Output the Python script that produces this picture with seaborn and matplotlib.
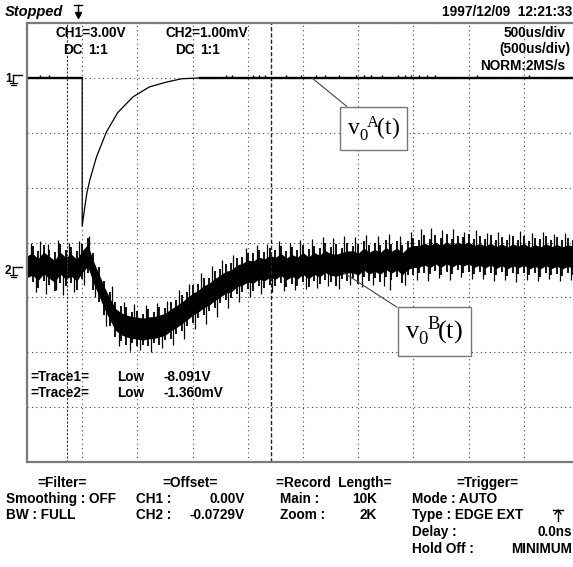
import numpy as np
import matplotlib
matplotlib.use("Agg")
import matplotlib.pyplot as plt
import seaborn as sns
from matplotlib.lines import Line2D

# ---------------- data ----------------
# time in ms (500 us/div, trigger at t = 0)
CH1_V_PER_DIV = 3.0      # CH1 = 3.00 V/div
CH1_GND_DIV = 3.0        # CH1 ground marker position (divisions)
CH2_MV_PER_DIV = 1.0     # CH2 = 1.00 mV/div
CH2_GND_DIV = -0.5       # CH2 ground marker position (divisions)

ch1_t = [-0.50, 0.00, 0.00, 0.025, 0.043, 0.07, 0.13, 0.22, 0.32, 0.46, 0.61, 0.77, 0.90, 1.07, 4.50]
ch1_v = [0.00, 0.00, -8.09, -7.00, -6.27, -5.56, -4.31, -2.95, -1.91, -1.04, -0.49, -0.22, -0.05, 0.00, 0.00]
# tiny glitches sitting on the settled CH1 level (time ms)
ch1_blip_t = [-0.38, -0.30, 1.30, 1.36, 1.55, 1.60, 1.66, 1.85, 1.98, 2.12, 2.20, 2.33, 2.48,
              2.55, 2.62, 2.72, 2.86, 2.92, 2.98, 3.05, 3.12, 3.20, 3.58, 4.05]

ch2_t = [-0.50, -0.45, -0.40, -0.35, -0.30, -0.25, -0.20, -0.15, -0.10, -0.05,
         0.00, 0.05, 0.10, 0.15, 0.20, 0.25, 0.30, 0.35, 0.40, 0.45,
         0.50, 0.55, 0.60, 0.65, 0.70, 0.75, 0.80, 0.85, 0.90, 0.95,
         1.00, 1.05, 1.10, 1.15, 1.20, 1.25, 1.30, 1.35, 1.40, 1.45,
         1.50, 1.55, 1.60, 1.65, 1.70, 1.75, 1.80, 1.85, 1.90, 1.95,
         2.00, 2.05, 2.10, 2.15, 2.20, 2.25, 2.30, 2.35, 2.40, 2.45,
         2.50, 2.55, 2.60, 2.65, 2.70, 2.75, 2.80, 2.85, 2.90, 2.95,
         3.00, 3.05, 3.10, 3.15, 3.20, 3.25, 3.30, 3.35, 3.40, 3.45,
         3.50, 3.55, 3.60, 3.65, 3.70, 3.75, 3.80, 3.85, 3.90, 3.95,
         4.00, 4.05, 4.10, 4.15, 4.20, 4.25, 4.30, 4.35, 4.40, 4.45, 4.50]
ch2_hi = [0.36, 0.43, 0.34, 0.46, 0.37, 0.33, 0.48, 0.36, 0.42, 0.35,
          0.47, 0.59, 0.30, 0.05, -0.20, -0.40, -0.58, -0.66, -0.68, -0.77,
          -0.74, -0.80, -0.72, -0.76, -0.68, -0.70, -0.58, -0.55, -0.45, -0.40,
          -0.28, -0.26, -0.15, -0.14, -0.02, 0.01, 0.10, 0.12, 0.22, 0.24,
          0.31, 0.30, 0.36, 0.33, 0.40, 0.36, 0.44, 0.35, 0.41, 0.37,
          0.46, 0.38, 0.44, 0.40, 0.49, 0.42, 0.47, 0.40, 0.50, 0.44,
          0.47, 0.52, 0.45, 0.50, 0.46, 0.54, 0.47, 0.53, 0.46, 0.52,
          0.58, 0.55, 0.63, 0.56, 0.64, 0.58, 0.66, 0.57, 0.62, 0.60,
          0.65, 0.57, 0.61, 0.56, 0.63, 0.55, 0.60, 0.54, 0.61, 0.55,
          0.62, 0.53, 0.59, 0.56, 0.61, 0.54, 0.60, 0.55, 0.58, 0.54, 0.57]
ch2_lo = [-0.24, -0.22, -0.33, -0.20, -0.27, -0.38, -0.23, -0.30, -0.24, -0.36,
          -0.17, -0.06, -0.36, -0.58, -0.82, -1.02, -1.22, -1.30, -1.36, -1.33,
          -1.38, -1.36, -1.39, -1.34, -1.36, -1.28, -1.25, -1.16, -1.12, -1.02,
          -0.97, -0.88, -0.83, -0.74, -0.70, -0.60, -0.55, -0.52, -0.44, -0.40,
          -0.35, -0.38, -0.29, -0.33, -0.27, -0.30, -0.24, -0.31, -0.25, -0.30,
          -0.22, -0.31, -0.20, -0.26, -0.18, -0.22, -0.30, -0.16, -0.21, -0.14,
          -0.26, -0.12, -0.20, -0.15, -0.22, -0.12, -0.19, -0.13, -0.24, -0.10,
          -0.09, -0.06, -0.05, -0.08, -0.02, -0.09, -0.03, -0.07, 0.00, -0.06,
          -0.03, -0.08, -0.04, -0.09, -0.05, -0.10, -0.04, -0.11, -0.06, -0.08,
          -0.05, -0.10, -0.06, -0.12, -0.05, -0.09, -0.07, -0.11, -0.05, -0.09, -0.07]

# noise spikes poking out of the CH2 band (time ms, tip mV)
up_t = [-0.46, -0.38, -0.31, -0.22, -0.12, -0.03, 0.06, 0.27, 0.38, 0.47, 0.58, 0.68, 0.77,
        0.88, 0.97, 1.08, 1.18, 1.27, 1.37, 1.48, 1.58, 1.67, 1.78, 1.88, 1.97, 2.08, 2.18,
        2.27, 2.37, 2.47, 2.57, 2.68, 2.78, 2.88, 2.98, 3.07, 3.16, 3.26, 3.36, 3.46, 3.57,
        3.67, 3.77, 3.87, 3.97, 4.07, 4.17, 4.27, 4.37, 4.46]
up_v = [0.50, 0.52, 0.47, 0.55, 0.50, 0.52, 0.62, -0.30, -0.58, -0.62, -0.64, -0.60, -0.56,
        -0.36, -0.25, -0.05, 0.08, 0.18, 0.28, 0.40, 0.45, 0.48, 0.52, 0.50, 0.55, 0.56, 0.60,
        0.58, 0.62, 0.60, 0.64, 0.61, 0.66, 0.62, 0.70, 0.74, 0.77, 0.72, 0.75, 0.70, 0.73,
        0.68, 0.70, 0.66, 0.71, 0.67, 0.69, 0.65, 0.68, 0.64]
dn_t = [-0.42, -0.33, -0.24, -0.17, -0.07, 0.02, 0.12, 0.22, 0.33, 0.43, 0.52, 0.62, 0.72,
        0.82, 0.92, 1.02, 1.12, 1.22, 1.32, 1.42, 1.52, 1.62, 1.72, 1.83, 1.93, 2.03, 2.13,
        2.23, 2.33, 2.43, 2.53, 2.63, 2.73, 2.79, 2.92, 3.03, 3.13, 3.23, 3.33, 3.43, 3.53,
        3.63, 3.73, 3.83, 3.93, 4.03, 4.13, 4.23, 4.33, 4.43]
dn_v = [-0.40, -0.43, -0.37, -0.45, -0.40, -0.28, -0.50, -1.02, -1.38, -1.48, -1.46, -1.50, -1.42,
        -1.36, -1.25, -1.08, -0.98, -0.85, -0.70, -0.58, -0.50, -0.44, -0.40, -0.38, -0.36, -0.35, -0.33,
        -0.30, -0.35, -0.28, -0.32, -0.27, -0.30, -0.37, -0.27, -0.18, -0.20, -0.15, -0.18, -0.13, -0.17,
        -0.16, -0.20, -0.18, -0.22, -0.19, -0.21, -0.17, -0.20, -0.18]

trig_marker_t = -0.138   # dotted marker line
cursor_t = 1.71          # dashed cursor line

# ---------------- figure ----------------
W, H = 573, 567
plt.rcParams['font.family'] = ['Liberation Sans', 'DejaVu Sans']
plt.rcParams['mathtext.fontset'] = 'custom'
plt.rcParams['mathtext.rm'] = 'Liberation Serif'
plt.rcParams['mathtext.it'] = 'Liberation Serif:italic'

fig = plt.figure(figsize=(W / 100, H / 100), dpi=100)
fig.patch.set_facecolor('white')
L, R, T, B = 27, 579, 23, 462
ax = fig.add_axes([L / W, 1 - B / H, (R - L) / W, (B - T) / H])
ax.set_xlim(-0.5, 4.5)
ax.set_ylim(-4, 4)
ax.set_facecolor('white')

ax.set_xticks(np.arange(-0.5, 4.51, 0.5))
ax.set_yticks(np.arange(-4, 4.01, 1))
ax.tick_params(length=0, labelbottom=False, labelleft=False)
ax.set_axisbelow(True)
ax.grid(True, linestyle=(0, (1, 3)), color='#444444', linewidth=0.8)
for side, sp in ax.spines.items():
    sp.set_color('#7a7a7a')
    sp.set_linewidth(1.6)
ax.spines['right'].set_visible(False)

ax.axvline(trig_marker_t, linestyle=(0, (2, 1.5)), color='#333333', linewidth=0.8)
ax.axvline(cursor_t, linestyle=(0, (3, 1.5)), color='#222222', linewidth=1.0)

# CH2 noisy trace: solid core + per-column extents + spikes
t2 = np.array(ch2_t)
hi2 = CH2_GND_DIV + np.array(ch2_hi) / CH2_MV_PER_DIV
lo2 = CH2_GND_DIV + np.array(ch2_lo) / CH2_MV_PER_DIV
mid2 = (hi2 + lo2) / 2
ax.fill_between(t2, mid2 - 0.2, mid2 + 0.2, color='black', linewidth=0)
ax.vlines(t2, lo2, hi2, color='black', linewidth=1.3)
upd = CH2_GND_DIV + np.array(up_v) / CH2_MV_PER_DIV
dnd = CH2_GND_DIV + np.array(dn_v) / CH2_MV_PER_DIV
ax.vlines(up_t, upd - 0.35, upd, color='black', linewidth=0.9)
ax.vlines(dn_t, dnd, dnd + 0.35, color='black', linewidth=0.9)

# CH1 trace
t1 = np.array(ch1_t)
y1 = CH1_GND_DIV + np.array(ch1_v) / CH1_V_PER_DIV
sns.lineplot(x=t1, y=y1, sort=False, estimator=None, color='black', linewidth=0.9, ax=ax)
sns.lineplot(x=t1[:2], y=y1[:2], sort=False, estimator=None, color='black', linewidth=1.7, ax=ax)
sns.lineplot(x=t1[-2:], y=y1[-2:], sort=False, estimator=None, color='black', linewidth=1.7, ax=ax)
ax.vlines(ch1_blip_t, CH1_GND_DIV, CH1_GND_DIV + 0.06, color='black', linewidth=1.0)
ax.set_xlabel('')
ax.set_ylabel('')

# annotations
box = dict(boxstyle='square,pad=0.3', fc='white', ec='#777777', lw=1.0)
arr = dict(arrowstyle='-', color='#444444', lw=0.8, shrinkA=0, shrinkB=0)
ax.annotate(r'$\mathrm{v}_{0}^{\ \ \mathrm{A}}\!(\mathrm{t})$', xy=(2.08, 3.0), xytext=(2.64, 2.08),
            ha='center', va='center', fontsize=17, bbox=box, arrowprops=arr)
ax.annotate(r'$\mathrm{v}_{0}^{\ \ \mathrm{B}}\!(\mathrm{t})$', xy=(2.364, -0.545), xytext=(3.19, -1.62),
            ha='center', va='center', fontsize=19, bbox=box, arrowprops=arr)


# ---------------- text ----------------
FS = 9.8


def ftxt(x, y, s, ha='left', size=FS, weight='bold', style='normal', **kw):
    fig.text(x / W, 1 - y / H, s, ha=ha, va='center', fontsize=size,
             fontweight=weight, fontstyle=style, color='black', **kw)


def fline(xs, ys, lw=1.0, color='black'):
    fig.add_artist(Line2D([x / W for x in xs], [1 - y / H for y in ys],
                          transform=fig.transFigure, color=color, linewidth=lw))


ftxt(5, 12, 'Stopped', size=10.5, style='italic')
ftxt(572, 12, '1997/12/09  12:21:33', ha='right')
ftxt(55, 33, 'CH1=3.00V')
ftxt(63, 50, 'DC')
ftxt(88, 50, '1:1')
ftxt(166, 33, 'CH2=1.00mV')
ftxt(175, 50, 'DC')
ftxt(200, 50, '1:1')
ftxt(566, 33, '500us/div', ha='right')
ftxt(570, 49, '(500us/div)', ha='right')
ftxt(565, 66, 'NORM:2MS/s', ha='right')

# trigger position marker near the top
fline([74, 82], [5, 5], lw=1.0)
fline([78, 78], [5, 16], lw=1.0)
fig.add_artist(Line2D([78 / W], [1 - 15 / H], transform=fig.transFigure, marker='v',
                      markersize=4, color='black', linestyle='none'))

# channel ground markers
for lab, yy in (('1', 78), ('2', 270)):
    ftxt(5, yy + 1, lab, size=8.5)
    fline([13, 22], [yy - 3, yy - 3], lw=1.0)
    fline([13, 13], [yy - 3, yy + 5], lw=1.0)
    fline([10, 17], [yy + 5, yy + 5], lw=0.9)
    fline([11, 16], [yy + 7, yy + 7], lw=0.9)

ftxt(30, 377, '=Trace1=')
ftxt(117, 377, 'Low')
ftxt(163, 377, '-8.091V')
ftxt(30, 393, '=Trace2=')
ftxt(117, 393, 'Low')
ftxt(163, 393, '-1.360mV')

r1, r2, r3, r4, r5 = 483, 499, 515, 532, 549
ftxt(62, r1, '=Filter=', ha='center')
ftxt(6, r2, 'Smoothing : OFF')
ftxt(6, r3, 'BW : FULL')
ftxt(190, r1, '=Offset=', ha='center')
ftxt(136, r2, 'CH1 :')
ftxt(245, r2, '0.00V', ha='right')
ftxt(136, r3, 'CH2 :')
ftxt(245, r3, '-0.0729V', ha='right')
ftxt(334, r1, '=Record  Length=', ha='center')
ftxt(280, r2, 'Main :')
ftxt(377, r2, '10K', ha='right')
ftxt(280, r3, 'Zoom :')
ftxt(377, r3, '2K', ha='right')
ftxt(487, r1, '=Trigger=', ha='center')
ftxt(412, r2, 'Mode : AUTO')
ftxt(412, r3, 'Type : EDGE EXT')
ftxt(412, r4, 'Delay :')
ftxt(572, r4, '0.0ns', ha='right')
ftxt(412, r5, 'Hold Off :')
ftxt(572, r5, 'MINIMUM', ha='right')
# edge-trigger symbol
fline([553, 563], [r3 - 5, r3 - 5], lw=1.0)
fline([558, 558], [r3 - 5, r3 + 6], lw=1.0)
fline([555, 558, 561], [r3 - 1, r3 - 5, r3 - 1], lw=1.0)

fig.savefig('out.png', dpi=100, facecolor='white')
